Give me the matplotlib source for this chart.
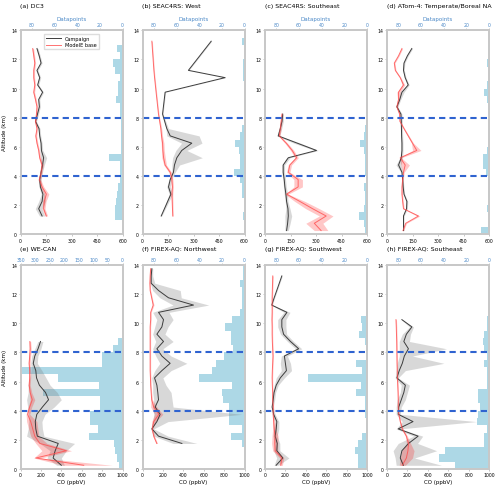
import numpy as np
import matplotlib.pyplot as plt

# (a) DC3
a_alt = [1.25, 1.75, 2.25, 2.75, 3.25, 3.75, 4.25, 4.75, 5.25, 5.75, 6.25, 6.75,
         7.25, 7.75, 8.25, 8.75, 9.25, 9.75, 10.25, 10.75, 11.25, 11.75, 12.25, 12.75]
a_camp = [127, 107, 127, 132, 117, 113, 121, 130, 136, 123, 121, 113,
          109, 88, 100, 111, 107, 130, 101, 113, 97, 121, 110, 97]
a_camp_sd = [15, 20, 20, 10, 8, 8, 8, 10, 18, 8, 6, 6, 6, 6, 6, 6, 6, 6, 6, 6, 6, 6, 6, 6]
a_mod = [152, 136, 140, 152, 127, 111, 121, 127, 113, 107, 97, 90,
         97, 88, 94, 97, 88, 78, 84, 78, 78, 84, 78, 72]
a_mod_sd = [8, 8, 10, 15, 10, 8, 6, 8, 6, 5, 5, 5, 5, 5, 5, 5, 5, 5, 5, 5, 5, 5, 5, 5]
a_counts = [0, 0, 7, 7, 6, 5, 4, 2, 2, 2, 12, 1, 1, 1, 1, 1, 2, 2, 6, 4, 4, 2, 7, 8, 2, 5]

# (b) SEAC4RS: West
b_alt = [1.25, 2.75, 3.25, 3.75, 4.25, 4.75, 5.25, 5.75, 6.25, 6.75, 7.25, 8.25, 9.75, 10.75, 11.25, 13.25]
b_camp = [110, 167, 153, 163, 182, 188, 202, 231, 290, 163, 143, 118, 133, 486, 270, 404]
b_camp_lo = [107, 157, 143, 155, 172, 173, 177, 196, 230, 143, 138, 115, 130, 483, 267, 401]
b_camp_hi = [113, 177, 163, 171, 192, 218, 352, 261, 350, 333, 153, 121, 136, 489, 273, 407]
b_mod = [178, 173, 176, 173, 163, 133, 124, 120, 118, 112, 108, 94, 80, 71, 67, 55]
b_mod_sd = [3, 5, 6, 6, 8, 8, 10, 8, 8, 6, 5, 3, 3, 3, 3, 3]
b_counts = [0, 0, 1, 0, 0, 2, 2, 4, 9, 4, 4, 5, 8, 4, 2, 0, 0, 0, 0, 0, 0, 1, 1, 1, 0, 0, 2]

# (c) SEAC4RS: Southeast
c_alt = [0.25, 0.75, 1.25, 1.75, 2.25, 2.75, 3.25, 3.75, 4.25, 4.75, 5.25, 5.75,
         6.25, 6.75, 7.25, 7.75, 8.25]
c_camp = [127, 133, 137, 135, 127, 123, 117, 113, 107, 107, 137, 303, 190, 78, 90, 100, 104]
c_camp_sd = [10, 15, 20, 12, 8, 10, 8, 8, 8, 8, 10, 10, 20, 8, 8, 8, 5]
c_mod = [330, 290, 360, 280, 205, 127, 195, 195, 137, 146, 186, 160, 125, 84, 90, 95, 100]
c_mod_sd = [40, 50, 40, 40, 30, 10, 25, 25, 10, 10, 10, 10, 8, 5, 5, 5, 5]
c_counts = [2, 3, 7, 3, 2, 2, 3, 1, 2, 2, 2, 3, 6, 3, 2, 1, 1]

# (d) ATom-4: Temperate/Boreal NA
d_alt = [0.25, 0.75, 1.25, 1.75, 2.25, 2.75, 3.25, 3.75, 4.25, 4.75, 5.25, 5.75, 6.25,
         6.75, 7.25, 7.75, 8.25, 8.75, 9.25, 9.75, 10.25, 10.75, 11.25, 11.75, 12.25, 12.75]
d_camp = [97, 97, 97, 115, 117, 100, 95, 92, 88, 68, 84, 88, 88,
          86, 85, 84, 82, 58, 75, 88, 125, 107, 97, 100, 120, 146]
d_camp_sd = [3, 3, 4, 5, 5, 4, 4, 4, 6, 15, 8, 6, 6, 6, 6, 6, 6, 6, 6, 12, 6, 5, 5, 5, 5, 5]
d_mod = [94, 110, 185, 97, 92, 88, 88, 92, 97, 107, 78, 175, 150,
         125, 100, 76, 74, 58, 68, 68, 97, 78, 49, 43, 68, 88]
d_mod_sd = [4, 5, 8, 4, 4, 4, 4, 4, 4, 25, 6, 25, 6, 5, 4, 4, 4, 4, 6, 10, 8, 4, 4, 4, 4, 4]
d_counts = [7, 0, 0, 2, 0, 1, 0, 0, 3, 5, 5, 2, 0, 0, 0, 0, 0, 1, 2, 4, 2, 0, 0, 2, 1, 1]

# (e) WE-CAN
e_alt = [0.25, 0.75, 1.25, 1.75, 2.25, 2.75, 3.25, 3.75, 4.25, 4.75, 5.25, 5.75,
         6.25, 6.75, 7.25, 7.75, 8.25, 8.75]
e_camp = [400, 320, 340, 370, 165, 150, 145, 160, 215, 275, 245, 185, 157, 150, 125, 140, 172, 196]
e_camp_lo = [355, 260, 290, 190, 60, 75, 80, 80, 70, 60, 75, 75, 90, 105, 100, 110, 140, 170]
e_camp_hi = [430, 400, 450, 530, 230, 215, 210, 240, 330, 400, 360, 290, 250, 210, 165, 170, 200, 220]
e_mod = [620, 150, 450, 190, 140, 120, 100, 70, 90, 115, 95, 85, 90, 90, 85, 90, 95, 92]
e_mod_lo = [420, 130, 210, 150, 100, 80, 60, 55, 75, 95, 85, 75, 80, 80, 75, 80, 85, 85]
e_mod_hi = [900, 200, 500, 260, 180, 170, 160, 90, 110, 140, 110, 95, 100, 100, 95, 100, 105, 100]
e_counts = [11, 20, 26, 30, 115, 85, 112, 112, 78, 78, 272, 80, 220, 360, 72, 72, 32, 15]

# (f) FIREX-AQ: Northwest
f_alt = [1.75, 2.25, 2.75, 3.25, 3.75, 4.25, 4.75, 5.25, 5.75, 6.25, 6.75, 7.25, 7.75,
         8.25, 8.75, 9.25, 9.75, 10.25, 10.75, 11.25, 11.75, 12.25, 12.75, 13.25, 13.75]
f_camp = [386, 157, 92, 141, 173, 124, 157, 150, 141, 118, 190, 271, 190,
          141, 206, 141, 190, 206, 157, 500, 255, 157, 85, 85, 92]
f_camp_lo = [300, 110, 80, 100, 110, 100, 110, 100, 100, 90, 120, 170, 130,
             100, 130, 100, 120, 140, 100, 300, 170, 100, 75, 75, 80]
f_camp_hi = [533, 250, 110, 250, 975, 300, 290, 280, 230, 200, 280, 435, 280,
             200, 300, 220, 250, 300, 260, 650, 380, 370, 120, 100, 100]
f_mod = [140, 110, 95, 110, 160, 110, 90, 85, 80, 78, 75, 75, 75,
         75, 75, 75, 75, 80, 80, 105, 90, 75, 72, 75, 80]
f_mod_sd = [8, 8, 6, 20, 40, 30, 8, 5, 5, 5, 5, 5, 5, 5, 5, 5, 5, 5, 5, 8, 6, 5, 5, 5, 5]
f_counts = [0, 0, 0, 2, 12, 2, 14, 14, 14, 19, 20, 11, 40, 29, 25, 18, 10, 12, 12, 17,
            11, 4, 2, 2, 2, 4, 1, 1]

# (g) FIREX-AQ: Southwest
g_alt = [0.25, 0.75, 1.25, 1.75, 2.25, 2.75, 3.25, 3.75, 4.25, 4.75, 5.25, 5.75, 6.25, 6.75,
         7.25, 7.75, 8.25, 8.75, 9.25, 9.75, 10.25, 10.75, 11.25, 11.75, 12.25, 12.75, 13.25]
g_camp = [109, 175, 116, 120, 100, 110, 116, 85, 70, 80, 89, 110, 150, 210,
          200, 190, 330, 250, 182, 165, 165, 215, 66, 90, 115, 140, 165]
g_camp_sd = [20, 60, 30, 25, 20, 25, 20, 15, 10, 15, 15, 20, 40, 50,
             50, 30, 30, 30, 30, 40, 40, 30, 5, 5, 5, 5, 5]
g_mod = [155, 165, 100, 95, 99, 90, 85, 80, 80, 75, 75, 72, 70, 72,
         75, 78, 75, 72, 70, 70, 68, 70, 70, 70, 72, 74, 76]
g_mod_sd = [15, 20, 25, 30, 30, 15, 10, 5, 5, 5, 5, 5, 5, 5, 5, 5, 5, 5, 5, 5, 5, 5, 5, 5, 5, 5, 5]
g_counts = [8, 8, 11, 8, 4, 1, 0, 2, 2, 2, 10, 5, 52, 4, 10, 1, 1, 2, 7, 4, 5, 0, 0, 0, 1, 0, 1]

# (h) FIREX-AQ: Southeast
h_alt = [0.25, 0.75, 1.25, 1.75, 2.25, 2.75, 3.25, 3.75, 4.25, 4.75, 5.25, 5.75,
         6.25, 6.75, 7.25, 7.75, 8.25, 8.75, 9.25, 9.75, 10.25]
h_camp = [160, 130, 146, 211, 305, 110, 255, 110, 115, 140, 165, 180,
          97, 120, 150, 170, 210, 165, 190, 244, 146]
h_camp_lo = [90, 80, 60, 110, 260, 90, 150, 90, 90, 100, 130, 140,
             80, 90, 100, 120, 120, 120, 150, 220, 140]
h_camp_hi = [535, 270, 487, 300, 350, 130, 877, 130, 140, 180, 200, 220,
             110, 180, 558, 250, 584, 220, 230, 260, 150]
h_mod = [150, 190, 205, 211, 190, 150, 130, 115, 110, 110, 108, 105,
         102, 100, 98, 97, 96, 95, 93, 91, 88]
h_mod_sd = [30, 60, 60, 20, 10, 8, 5, 5, 5, 5, 5, 5, 5, 5, 5, 5, 5, 5, 5, 5, 5]
h_counts = [30, 44, 39, 4, 4, 2, 11, 10, 8, 10, 10, 2, 2, 2, 4, 2, 4, 5, 4, 2, 2]

titles = ["(a) DC3", "(b) SEAC4RS: West", "(c) SEAC4RS: Southeast",
          "(d) ATom-4: Temperate/Boreal NA", "(e) WE-CAN", "(f) FIREX-AQ: Northwest",
          "(g) FIREX-AQ: Southwest", "(h) FIREX-AQ: Southeast"]


def sym(vals, sd):
    v = np.array(vals, dtype=float)
    s = np.array(sd, dtype=float)
    return v - s, v + s


panels = [
    (a_alt, a_camp, *sym(a_camp, a_camp_sd), a_mod, *sym(a_mod, a_mod_sd), a_counts),
    (b_alt, b_camp, b_camp_lo, b_camp_hi, b_mod, *sym(b_mod, b_mod_sd), b_counts),
    (c_alt, c_camp, *sym(c_camp, c_camp_sd), c_mod, *sym(c_mod, c_mod_sd), c_counts),
    (d_alt, d_camp, *sym(d_camp, d_camp_sd), d_mod, *sym(d_mod, d_mod_sd), d_counts),
    (e_alt, e_camp, e_camp_lo, e_camp_hi, e_mod, e_mod_lo, e_mod_hi, e_counts),
    (f_alt, f_camp, f_camp_lo, f_camp_hi, f_mod, *sym(f_mod, f_mod_sd), f_counts),
    (g_alt, g_camp, *sym(g_camp, g_camp_sd), g_mod, *sym(g_mod, g_mod_sd), g_counts),
    (h_alt, h_camp, h_camp_lo, h_camp_hi, h_mod, *sym(h_mod, h_mod_sd), h_counts),
]

fig = plt.figure(figsize=(5, 4.89), dpi=100)
lefts = [0.041, 0.285, 0.530, 0.774]
bottoms = [0.519, 0.039]
w, hgt = 0.204, 0.417
spine_c = "#c8c8c8"
blue_txt = "#4a88c7"
tick_fs = 3.3

for i, (alt, camp, clo, chi, mod, mlo, mhi, counts) in enumerate(panels):
    row, col = divmod(i, 4)
    ax = fig.add_axes([lefts[col], bottoms[row], w, hgt])
    tw = ax.twiny()
    centers = 0.25 + 0.5 * np.arange(len(counts))
    tw.barh(centers, counts, height=0.5, color="#add8e6", lw=0)
    if i == 4:
        tw.set_xlim(350, 0)
        tw.set_xticks([350, 300, 250, 200, 150, 100, 50, 0])
    else:
        tw.set_xlim(90, 0)
        tw.set_xticks([80, 60, 40, 20, 0])
    tw.tick_params(labelsize=tick_fs, labelcolor=blue_txt, length=1.5, width=0.4, pad=1,
                   color="#999999")
    if row == 0:
        tw.set_xlabel("Datapoints", fontsize=4, color=blue_txt, labelpad=1)

    ax.set_zorder(tw.get_zorder() + 1)
    ax.patch.set_visible(False)
    ax.fill_betweenx(alt, clo, chi, color="grey", alpha=0.3, lw=0)
    ax.fill_betweenx(alt, mlo, mhi, color="red", alpha=0.22, lw=0)
    ax.plot(camp, alt, color="#3c3c3c", lw=0.7, label="Campaign")
    ax.plot(mod, alt, color="#ff4d4d", alpha=0.8, lw=0.7, label="ModelE base")
    for lev in (4, 8):
        ax.axhline(lev, color="#2f63d0", lw=1.5, ls=(0, (3, 2)))

    ax.set_ylim(0, 14)
    ax.set_yticks(range(0, 15, 2))
    if row == 0:
        ax.set_xlim(0, 600)
        ax.set_xticks([0, 150, 300, 450, 600])
    else:
        ax.set_xlim(0, 1000)
        ax.set_xticks([0, 200, 400, 600, 800, 1000])
        ax.set_xlabel("CO (ppbV)", fontsize=4, labelpad=1.5)
    if col == 0:
        ax.set_ylabel("Altitude (km)", fontsize=4)
        ax.yaxis.set_label_coords(-0.13, 0.5)
    ax.tick_params(labelsize=tick_fs, length=1.5, width=0.4, pad=1, color="#999999")
    for a in (ax, tw):
        for s in a.spines.values():
            s.set_color(spine_c)
            s.set_linewidth(1.3)

    ty = 0.9857 if row == 0 else 0.489
    fig.text(lefts[col], ty, titles[i], fontsize=4.5, ha="left", va="center")

    if i == 0:
        ax.legend(loc="upper center", bbox_to_anchor=(0.5, 0.995), fontsize=3.6,
                  handlelength=3, borderpad=0.4, labelspacing=0.3, framealpha=1,
                  edgecolor="#dddddd", fancybox=False)

fig.savefig("out.png", dpi=100)
